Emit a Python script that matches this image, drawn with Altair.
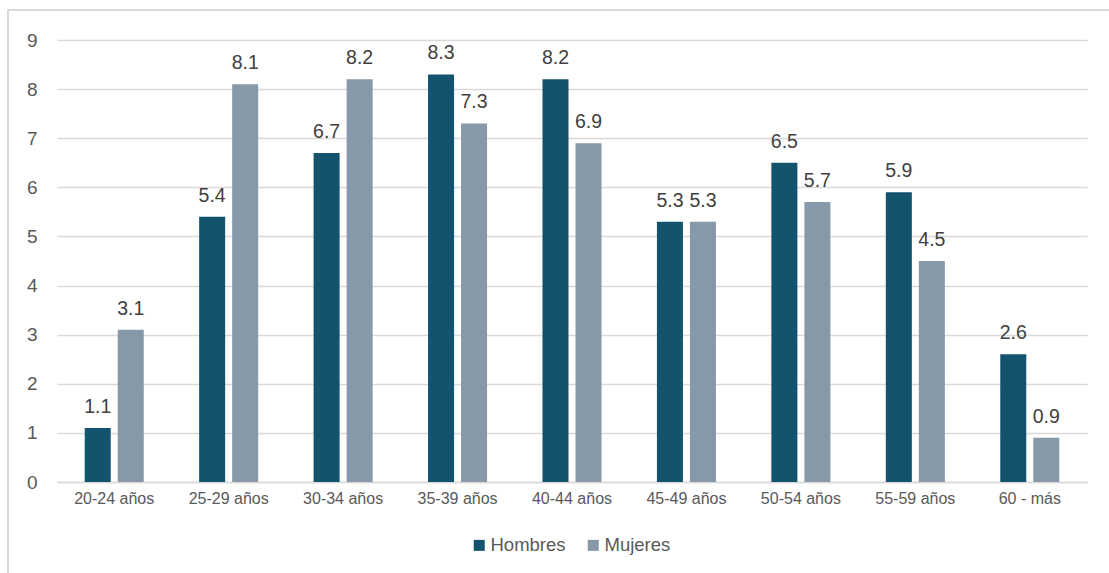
import altair as alt
import pandas as pd

# Age groups and rates by sex
grupos = ["20-24 años", "25-29 años", "30-34 años", "35-39 años", "40-44 años",
          "45-49 años", "50-54 años", "55-59 años", "60 - más"]
hombres = [1.1, 5.4, 6.7, 8.3, 8.2, 5.3, 6.5, 5.9, 2.6]
mujeres = [3.1, 8.1, 8.2, 7.3, 6.9, 5.3, 5.7, 4.5, 0.9]
series = ["Hombres", "Mujeres"]
colores = ["#13536e", "#8798a9"]

rows = []
for g, h, m in zip(grupos, hombres, mujeres):
    rows.append({"grupo": g, "serie": "Hombres", "valor": h})
    rows.append({"grupo": g, "serie": "Mujeres", "valor": m})
df = pd.DataFrame(rows)

x_enc = alt.X("grupo:N", sort=grupos, title=None,
              scale=alt.Scale(paddingInner=0, paddingOuter=0),
              axis=alt.Axis(labelAngle=0, labelFontSize=16, labelColor="#595959",
                            labelPadding=8, ticks=False, domainColor="#d9d9d9",
                            domainWidth=1.5, labelFont="Liberation Sans"))
xo_enc = alt.XOffset("serie:N", sort=series,
                     scale=alt.Scale(paddingInner=0.212, paddingOuter=0.839))
y_enc = alt.Y("valor:Q", title=None,
              scale=alt.Scale(domain=[0, 9], nice=False),
              axis=alt.Axis(values=list(range(10)), format="d", labelFontSize=19,
                            labelColor="#595959", labelPadding=20, ticks=False,
                            domain=False, gridColor="#d9d9d9", gridWidth=1.5,
                            labelFont="Liberation Sans"))

bars = alt.Chart(df).mark_bar().encode(
    x=x_enc,
    xOffset=xo_enc,
    y=y_enc,
    color=alt.Color("serie:N", sort=series,
                    scale=alt.Scale(domain=series, range=colores),
                    legend=alt.Legend(title=None, orient="none", direction="horizontal",
                                      legendX=413, legendY=496, symbolType="square",
                                      symbolSize=121, symbolStrokeWidth=0,
                                      labelFontSize=18.5, labelColor="#595959",
                                      labelFont="Liberation Sans", labelOffset=2,
                                      columnPadding=18)),
)

labels = alt.Chart(df).mark_text(
    baseline="alphabetic", dy=-15, fontSize=19.5, color="#404040",
    font="Liberation Sans"
).encode(
    x=alt.X("grupo:N", sort=grupos),
    xOffset=alt.XOffset("serie:N", sort=series),
    y="valor:Q",
    text=alt.Text("valor:Q", format=".1f"),
)

# light outer frame around the figure
frame = alt.Chart(df).mark_rect(fillOpacity=0, stroke="#d9d9d9", strokeWidth=1.5).encode(
    x=alt.value(-49), x2=alt.value(1080), y=alt.value(-30), y2=alt.value(570)
)

chart = alt.layer(frame, bars, labels).properties(
    width=1030, height=442,
    autosize=alt.AutoSizeParams(type="none"),
    padding={"left": 57, "top": 40, "right": 22, "bottom": 91},
    background="white",
).configure_view(stroke=None)

chart.save("out.html", embed_options={"renderer": "svg", "actions": False})
